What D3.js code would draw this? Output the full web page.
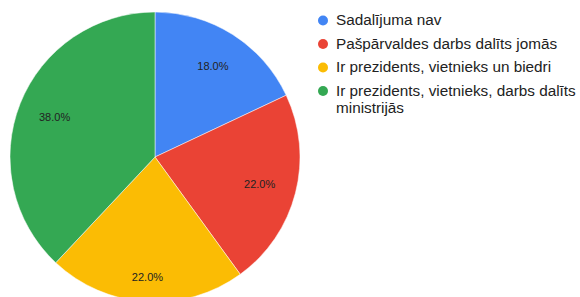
<!DOCTYPE html>
<html>
<head>
<meta charset="utf-8">
<script src="https://cdn.jsdelivr.net/npm/d3@7"></script>
<style>
  body { margin: 0; background: #fff; }
  text { font-family: "Liberation Sans", Arial, sans-serif; }
</style>
</head>
<body>
<div id="chart"></div>
<script>
// Chart data
var categories = ['Sadalījuma nav', 'Pašpārvaldes darbs dalīts jomās', 'Ir prezidents, vietnieks un biedri', 'Ir prezidents, vietnieks, darbs dalīts ministrijās'];
var values = [18, 22, 22, 38];
var colors = ['#4285f4', '#ea4335', '#fbbc04', '#34a853'];

var width = 580, height = 297;
var cx = 155, cy = 157, radius = 145;

var svg = d3.select('#chart').append('svg')
    .attr('width', width)
    .attr('height', height);

var g = svg.append('g')
    .attr('transform', 'translate(' + cx + ',' + cy + ')');

var pie = d3.pie().sort(null).value(function (d) { return d; });
var arcs = pie(values);
var arc = d3.arc().innerRadius(0).outerRadius(radius);
var total = d3.sum(values);

// Slices
g.selectAll('path.slice')
    .data(arcs)
    .enter()
    .append('path')
    .attr('class', 'slice')
    .attr('d', arc)
    .attr('fill', function (d, i) { return colors[i]; })
    .attr('stroke', '#fff')
    .attr('stroke-width', 0.5);

// Percentage labels - labels pointing straight down sit a bit further out
function labelPos(d) {
    var a = (d.startAngle + d.endAngle) / 2;
    var r = radius * 0.745;
    r += 12 * Math.max(0, -Math.cos(a)) * (Math.abs(Math.sin(a)) < 0.3 ? 1 : 0);
    return [r * Math.sin(a), -r * Math.cos(a)];
}

g.selectAll('text.pct')
    .data(arcs)
    .enter()
    .append('text')
    .attr('class', 'pct')
    .attr('transform', function (d) { return 'translate(' + labelPos(d) + ')'; })
    .attr('text-anchor', 'middle')
    .attr('dy', '0.35em')
    .style('font-size', '11px')
    .style('fill', '#222')
    .text(function (d) { return (d.value / total * 100).toFixed(1) + '%'; });

// Legend
var legendX = 323, legendY = 20, legendMaxW = 250;
var lineY = legendY;
categories.forEach(function (name, i) {
    svg.append('circle')
        .attr('cx', legendX)
        .attr('cy', lineY + 0.5)
        .attr('r', 5)
        .attr('fill', colors[i]);

    var t = svg.append('text')
        .attr('x', legendX + 13)
        .attr('y', lineY)
        .attr('dy', '0.35em')
        .style('font-size', '15.3px')
        .style('fill', '#222');

    // wrap words to fit
    var words = name.split(' ');
    var line = [];
    var tspan = t.append('tspan').attr('x', legendX + 13);
    var lines = 1;
    words.forEach(function (w) {
        line.push(w);
        tspan.text(line.join(' '));
        if (tspan.node().getComputedTextLength() > legendMaxW && line.length > 1) {
            line.pop();
            tspan.text(line.join(' '));
            line = [w];
            tspan = t.append('tspan').attr('x', legendX + 13).attr('dy', 17.2).text(w);
            lines++;
        }
    });
    lineY += 23.5 + (lines - 1) * 17.2;
});
</script>
</body>
</html>
